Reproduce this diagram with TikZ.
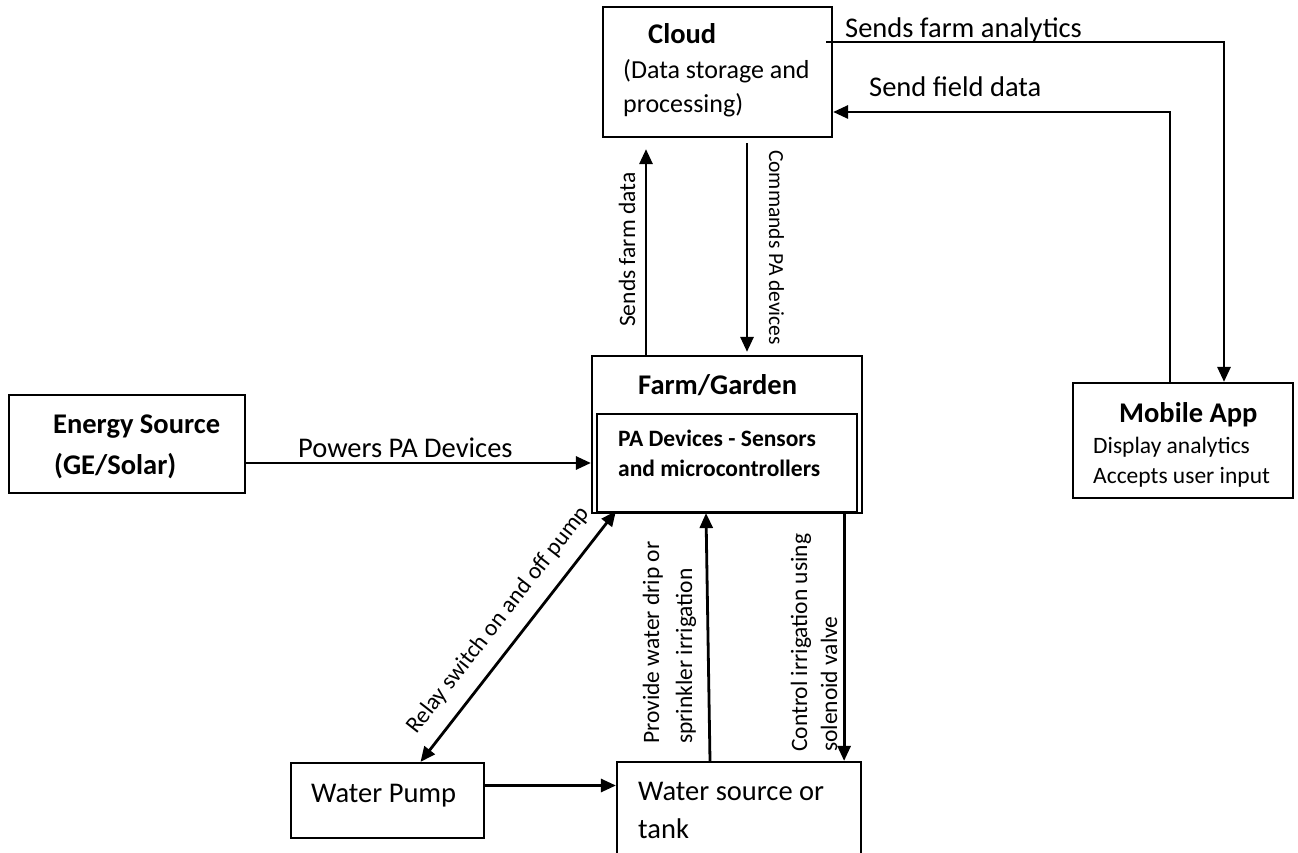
\documentclass[tikz,border=0pt]{standalone}
\usepackage{fontspec}
\setmainfont{Carlito}
\usetikzlibrary{arrows.meta,calc}

\begin{document}
\begin{tikzpicture}[x=1pt,y=-1pt,
    box/.style={draw,line width=2.2pt,inner sep=0pt},
    arr/.style={line width=2.8pt,-{Triangle[length=15pt,width=13pt]}},
    arrs/.style={line width=2.8pt,{Triangle[length=15pt,width=13pt]}-{Triangle[length=15pt,width=13pt]}},
    big/.style={font=\fontsize{28.5}{34}\selectfont,inner sep=0pt,anchor=base west},
    bigb/.style={font=\fontsize{28.5}{34}\selectfont\bfseries,inner sep=0pt,anchor=base west},
    mid/.style={font=\fontsize{26}{34}\selectfont,inner sep=0pt,anchor=base west},
    small/.style={font=\fontsize{23.5}{28}\selectfont,inner sep=0pt,anchor=base west},
    smallb/.style={font=\fontsize{23.5}{28}\selectfont\bfseries,inner sep=0pt,anchor=base west}]
    \useasboundingbox (0,0) rectangle (1298,853);
    \clip (0,0) rectangle (1298,853);

    % boxes
    \node[box,minimum width=229pt,minimum height=130pt] (cloud) at (717.5,72) {};
    \node[box,minimum width=270pt,minimum height=157pt] (farm) at (727,434.5) {};
    \node[box,minimum width=260pt,minimum height=98pt] (pa) at (727,463) {};
    \node[box,minimum width=236pt,minimum height=98pt] (energy) at (127,444) {};
    \node[box,minimum width=220pt,minimum height=115pt] (mobile) at (1183,440.5) {};
    \node[box,minimum width=193pt,minimum height=75pt] (pump) at (387.5,800.5) {};
    \node[box,minimum width=244pt,minimum height=110pt] (tank) at (739,817) {};

    % box texts
    \node[bigb] (cloudT) at (648,44) {Cloud};
    \node[mid] (cloudL1) at (623,79) {(Data storage and};
    \node[mid] (cloudL2) at (623,113) {processing)};
    \node[bigb] (farmT) at (638,394) {Farm/Garden};
    \node[smallb] (paL1) at (618,446) {PA Devices - Sensors};
    \node[smallb] (paL2) at (618,476) {and microcontrollers};
    \node[bigb] (energyL1) at (53,433) {Energy Source};
    \node[bigb] (energyL2) at (54,474) {(GE/Solar)};
    \node[bigb] (mobileT) at (1119,422) {Mobile App};
    \node[small] (mobileL1) at (1093,453) {Display analytics};
    \node[small] (mobileL2) at (1093,483) {Accepts user input};
    \node[big] (pumpT) at (311,802) {Water Pump};
    \node[big] (tankL1) at (638,800) {Water source or};
    \node[big] (tankL2) at (638,838) {tank};

    % connectors
    \draw[arr] (energy.east |- pa) -- (farm.west |- pa);
    \draw[arr] ($(farm.north)+(-81,0)$) -- ($(cloud.south)+(-71.5,11)$);
    \draw[arr] ($(cloud.south)+(29.5,5)$) -- ($(farm.north)+(20,-3)$);
    \draw[arr] ($(cloud.east)+(-7,-30)$) -| ($(mobile.north)+(41,0)$);
    \draw[arr] ($(mobile.north)+(-13,0)$) |- ($(cloud.east)+(0,40)$);
    \draw[arrs] ($(pump.north)+(33,0)$) -- ($(pa.south west)+(20,-2)$);
    \draw[arr] ($(tank.north)+(-29,0)$) -- ($(pa.south)+(-21,0)$);
    \draw[arr] ($(farm.south east)+(-19,0)$) -- ($(tank.north east)+(-18,0)$);
    \path ($(pump.east)+(0,-15)$) coordinate (pumpout);
    \draw[arr] (pumpout) -- (pumpout -| tank.west);

    % connector labels
    \node[big] (powers) at (298,457) {Powers PA Devices};
    \node[big] (analytics) at (845,38) {Sends farm analytics};
    \node[big] (fielddata) at (869,97) {Send field data};
    \node[small,rotate=90] (sendsfarm) at (635,327) {Sends farm data};
    \node[small,font=\fontsize{21.5}{26}\selectfont,rotate=-90] (commands) at (769,150) {Commands PA devices};
    \node[small,anchor=base,rotate=52] (relay) at (503,624) {Relay switch on and off pump};
    \node[small,rotate=90] (provide1) at (659,744) {Provide water drip or};
    \node[small,rotate=90] (provide2) at (692,744) {sprinkler irrigation};
    \node[small,rotate=90] (control1) at (807,752) {Control irrigation using};
    \node[small,rotate=90] (control2) at (837,752) {solenoid valve};
\end{tikzpicture}
\end{document}
